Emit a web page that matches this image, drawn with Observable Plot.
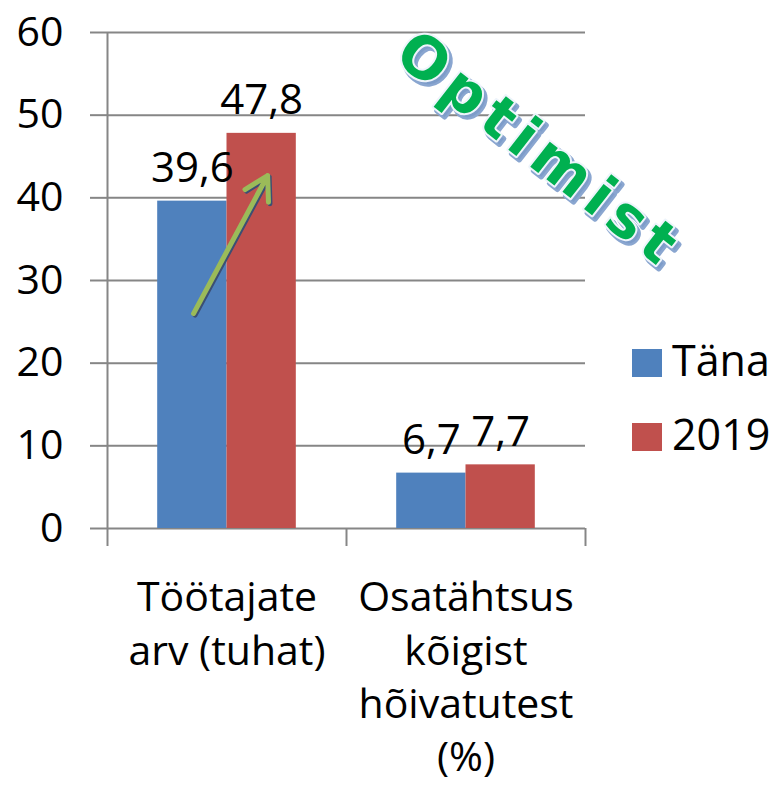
<!DOCTYPE html>
<html>
<head>
<meta charset="utf-8">
<script src="https://cdn.jsdelivr.net/npm/d3@7"></script>
<script src="https://cdn.jsdelivr.net/npm/@observablehq/plot@0.6"></script>
<style>
  html, body { margin: 0; padding: 0; background: #fff; }
  #wrap { position: relative; width: 771px; height: 786px; font-family: "Open Sans", sans-serif; }
  .sw { position: absolute; width: 30px; height: 28px; }
  .lt { position: absolute; font-size: 43px; line-height: 43px; color: #000; white-space: nowrap; }
</style>
</head>
<body>
<div id="wrap"></div>
<script>
// ---- data ----
const categories = ["Töötajate\narv (tuhat)", "Osatähtsus\nkõigist\nhõivatutest\n(%)"];
const series = ["Täna", "2019"];
const tana = [39.6, 6.7];
const y2019 = [47.8, 7.7];
const yTicks = [0, 10, 20, 30, 40, 50, 60];
const colors = ["#4F81BD", "#C0504D"];
const annotationText = ["Optimist"];
// trend arrow on the first category (from Täna level toward 2019 level)
const trend = [{x1: 0.36, y1: 26.0, x2: 0.67, y2: 42.7}];

const rows = [];
categories.forEach((c, i) => {
  rows.push({ci: i, category: c, series: series[0], value: tana[i]});
  rows.push({ci: i, category: c, series: series[1], value: y2019[i]});
});
const fmt = v => v.toFixed(1).replace(".", ",");
const left = d => d.ci + (d.series === series[0] ? 0.21 : 0.5);
const right = d => d.ci + (d.series === series[0] ? 0.5 : 0.79);
const mid = d => (left(d) + right(d)) / 2;
const gray = "#868686";

const chart = Plot.plot({
  width: 771,
  height: 786,
  marginLeft: 107,
  marginRight: 186,
  marginTop: 32,
  marginBottom: 258,
  style: {fontFamily: "Open Sans, sans-serif", background: "white", color: "black"},
  x: {domain: [0, categories.length], axis: null},
  y: {domain: [0, 60], axis: null},
  color: {domain: series, range: colors},
  marks: [
    Plot.gridY(yTicks, {stroke: gray, strokeOpacity: 1, strokeWidth: 2}),
    Plot.axisY(yTicks, {tickSize: 17, tickPadding: 27, stroke: gray, strokeWidth: 2, fill: "black", fontSize: 41, tickFormat: d => String(d)}),
    Plot.axisX(d3.range(categories.length + 1), {tickSize: 18, stroke: gray, strokeWidth: 2, tickFormat: () => ""}),
    Plot.ruleX([0], {stroke: gray, strokeWidth: 2}),
    Plot.rectY(rows, {x1: left, x2: right, y: "value", fill: "series"}),
    Plot.text(rows, {x: mid, y: "value", text: d => fmt(d.value), lineAnchor: "bottom", dy: -19, fontSize: 42, fill: "black"}),
    Plot.text(categories, {x: (d, i) => i + 0.5, frameAnchor: "bottom", lineAnchor: "top", dy: 45, fontSize: 41, lineHeight: 1.3, fill: "black"}),
    Plot.arrow(trend, {x1: "x1", y1: "y1", x2: "x2", y2: "y2", stroke: "#3b4f74", strokeWidth: 5, dx: 1.5, dy: 1.5}),
    Plot.arrow(trend, {x1: "x1", y1: "y1", x2: "x2", y2: "y2", stroke: "#9BBB59", strokeWidth: 5}),
    Plot.text(annotationText, {frameAnchor: "top-right", textAnchor: "middle", lineAnchor: "middle", dx: -43, dy: 122, rotate: 38, fontSize: 58, fontWeight: "bold", fontFamily: "DejaVu Sans", fill: "#7d9cc9", stroke: "#8aa6d0", strokeWidth: 5}),
    Plot.text(annotationText, {frameAnchor: "top-right", textAnchor: "middle", lineAnchor: "middle", dx: -46, dy: 118, rotate: 38, fontSize: 58, fontWeight: "bold", fontFamily: "DejaVu Sans", fill: "#00B050", stroke: "#eef4fb", strokeWidth: 4, paintOrder: "stroke"})
  ]
});

chart.querySelectorAll("text").forEach(t => {
  if (t.textContent === annotationText[0]) t.setAttribute("letter-spacing", "8");
});

const wrap = document.getElementById("wrap");
wrap.appendChild(chart);

// legend (colors from the plot's color scale)
const cs = chart.scale("color");
series.forEach((s, i) => {
  const sw = document.createElement("div");
  sw.className = "sw";
  sw.style.left = "632px";
  sw.style.top = (349 + i * 74) + "px";
  sw.style.background = cs.range[i];
  wrap.appendChild(sw);
  const lt = document.createElement("div");
  lt.className = "lt";
  lt.textContent = s;
  lt.style.left = "672px";
  lt.style.top = (338 + i * 74) + "px";
  wrap.appendChild(lt);
});
</script>
</body>
</html>
